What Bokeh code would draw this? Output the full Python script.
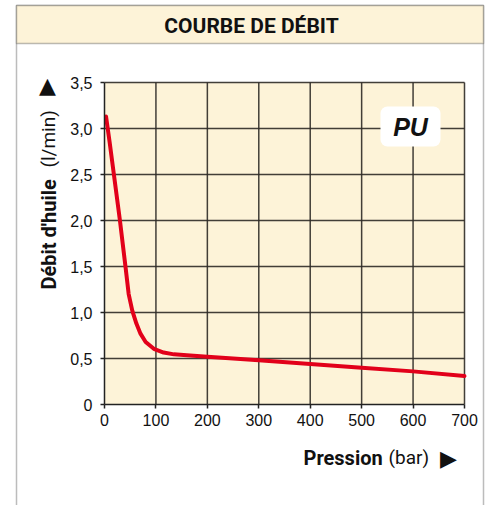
from bokeh.plotting import figure
from bokeh.models import Range1d, Label, BoxAnnotation, FixedTicker
from bokeh.embed import file_html
from bokeh.resources import INLINE

# ---- data ----
pressure = [3, 10, 18, 30, 41, 47, 54, 62, 70, 80, 96, 115, 135, 160, 200, 300, 400, 500, 600, 700]
flow = [3.13, 2.85, 2.51, 2.0, 1.49, 1.2, 1.02, 0.88, 0.77, 0.68, 0.605, 0.565, 0.545, 0.535, 0.52, 0.48, 0.44, 0.40, 0.36, 0.31]
x_ticks = [0, 100, 200, 300, 400, 500, 600, 700]
y_ticks = [0, 0.5, 1.0, 1.5, 2.0, 2.5, 3.0, 3.5]
y_tick_labels = ["0", "0,5", "1,0", "1,5", "2,0", "2,5", "3,0", "3,5"]
title_text = "COURBE DE DÉBIT"
badge_text = "PU"

BEIGE = "#FDF3D8"
RED = "#E2001A"
INK = "#111111"
FONT = "Liberation Sans"
COND = "Roboto"

W, H = 490, 505
X0, Y0 = 104, 404          # canvas position of data origin
kx = 360 / 700.0           # px per bar
ky = 322 / 3.5             # px per l/min

def dx(px):  # canvas x -> data x (layout helper)
    return (px - X0) / kx
def dy(py):  # canvas y -> data y (layout helper)
    return (Y0 - py) / ky

p = figure(width=W, height=H, min_border=0,
           x_range=Range1d(dx(0), dx(W)), y_range=Range1d(dy(H), dy(0)),
           output_backend="svg", toolbar_location=None)
p.background_fill_color = "white"
p.border_fill_color = "white"
p.outline_line_color = None
p.xgrid.visible = False
p.ygrid.visible = False

# axes placed at data origin, limited to data area
p.xaxis.fixed_location = 0
p.yaxis.fixed_location = 0
p.xaxis.bounds = (0, 700)
p.yaxis.bounds = (0, 3.5)
for ax in (p.xaxis, p.yaxis):
    ax.minor_tick_line_color = None
    ax.major_tick_in = 0
    ax.major_tick_out = 4
    ax.major_tick_line_color = "#222222"
    ax.major_tick_line_width = 1.5
    ax.axis_line_color = "#222222"
    ax.axis_line_width = 1.5
    ax.major_label_text_font = FONT
    ax.major_label_text_font_size = "16px"
    ax.major_label_text_color = INK
p.xaxis.ticker = FixedTicker(ticks=x_ticks)
p.yaxis.ticker = FixedTicker(ticks=y_ticks)
p.yaxis.major_label_overrides = {t: l for t, l in zip(y_ticks, y_tick_labels)}
p.xaxis.major_label_standoff = 5
p.yaxis.major_label_standoff = 8

# outer frame and title band
p.add_layout(BoxAnnotation(left=dx(16), right=dx(483), top=dy(5), bottom=dy(H + 20),
                           fill_alpha=0, line_color="#222222", line_width=1.5, level="image"))
p.add_layout(BoxAnnotation(left=dx(16), right=dx(483), top=dy(5), bottom=dy(43),
                           fill_color=BEIGE, fill_alpha=1, line_color="#222222", line_width=1.5,
                           level="image"))
# chart area background
p.add_layout(BoxAnnotation(left=0, right=700, top=3.5, bottom=0,
                           fill_color=BEIGE, fill_alpha=1, line_color=None, level="image"))

# grid lines
p.segment(x0=x_ticks[1:], y0=[0] * (len(x_ticks) - 1), x1=x_ticks[1:], y1=[3.5] * (len(x_ticks) - 1),
          line_color="#2e2a26", line_width=1.5, line_alpha=0.9)
p.segment(x0=[0] * (len(y_ticks) - 1), y0=y_ticks[1:], x1=[700] * (len(y_ticks) - 1), y1=y_ticks[1:],
          line_color="#2e2a26", line_width=1.5, line_alpha=0.9)

p.line(pressure, flow, line_color=RED, line_width=4, line_join="round", line_cap="round")

p.add_layout(Label(x=dx(251), y=dy(25), text=title_text, text_align="center", text_baseline="middle",
                   text_font=COND, text_font_style="bold", text_font_size="21px", text_color=INK))

# y-axis title (rotated)
p.add_layout(Label(x=dx(48), y=dy(289), text="Débit d'huile", angle=90, angle_units="deg",
                   text_align="left", text_baseline="middle",
                   text_font=COND, text_font_style="bold", text_font_size="20px", text_color=INK))
p.add_layout(Label(x=dx(48), y=dy(167), text="(l/min)", angle=90, angle_units="deg",
                   text_align="left", text_baseline="middle",
                   text_font=COND, text_font_size="19px", text_color=INK))
p.add_layout(Label(x=dx(47), y=dy(85), text="▲", text_align="center", text_baseline="middle",
                   text_font="DejaVu Sans", text_font_size="22px", text_color=INK))

# x-axis title
p.add_layout(Label(x=dx(303), y=dy(457), text="Pression", text_align="left", text_baseline="middle",
                   text_font=COND, text_font_style="bold", text_font_size="20px", text_color=INK))
p.add_layout(Label(x=dx(388), y=dy(457), text="(bar)", text_align="left", text_baseline="middle",
                   text_font=COND, text_font_size="19px", text_color=INK))
p.add_layout(Label(x=dx(448), y=dy(458), text="▶", text_align="center", text_baseline="middle",
                   text_font="DejaVu Sans", text_font_size="22px", text_color=INK))

# PU badge
p.add_layout(BoxAnnotation(left=dx(380), right=dx(440), top=dy(106), bottom=dy(146),
                           fill_color="white", fill_alpha=1, line_color=None, border_radius=7))
p.add_layout(Label(x=dx(410), y=dy(126), text=badge_text, text_align="center", text_baseline="middle",
                   text_font=FONT, text_font_style="bold italic", text_font_size="25px", text_color=INK))

open("out.html", "w").write(file_html(p, INLINE))
